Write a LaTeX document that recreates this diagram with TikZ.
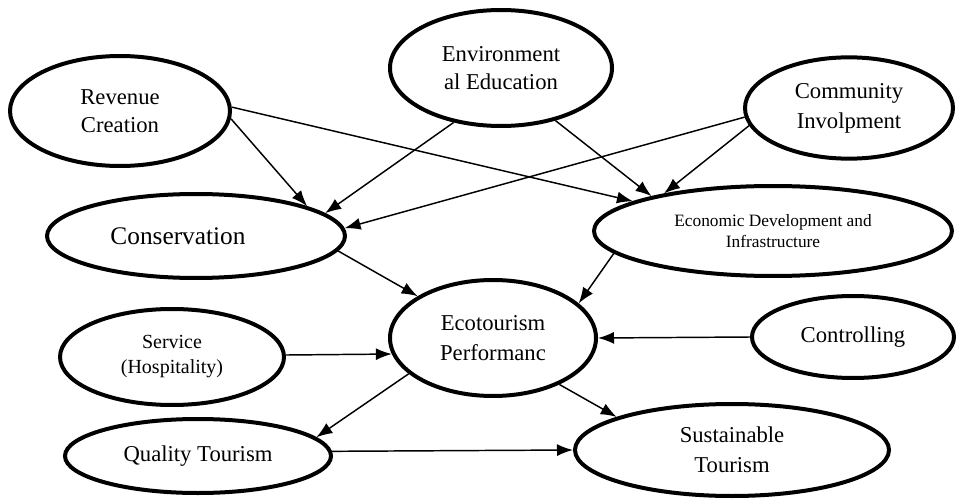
\documentclass[tikz,border=0pt]{standalone}
\usepackage{fontspec}
\setmainfont{Liberation Serif}
\usetikzlibrary{shapes.geometric,arrows.meta}
\tikzset{
  factor/.style={ellipse, draw, line width=3pt, inner sep=0pt, align=center,
    font=\fontsize{17pt}{21pt}\selectfont},
  link/.style={line width=1.1pt, -{Latex[length=12pt,width=9pt]}}
}
\begin{document}
\begin{tikzpicture}[x=0.75pt, y=-0.75pt]
  \useasboundingbox (0,0) rectangle (957,499);

  % top row
  \node[factor, minimum width=165pt, minimum height=82.5pt] (rev) at (120,111) {Revenue\\Creation};
  \node[factor, minimum width=166.5pt, minimum height=87pt] (env) at (501,68) {Environment\\al Education};
  \node[factor, minimum width=156pt, minimum height=76pt, font=\fontsize{17pt}{22.5pt}\selectfont] (comm) at (849,108) {Community\\Involpment};

  % second row
  \node[factor, minimum width=223.5pt, minimum height=63pt, font=\fontsize{19pt}{23pt}\selectfont] (cons) at (196,236) {Conservation\hspace*{27pt}};
  \node[factor, minimum width=268.5pt, minimum height=67.5pt, font=\fontsize{13pt}{16.3pt}\selectfont] (econ) at (773,231) {Economic Development and\\Infrastructure};

  % middle row
  \node[factor, minimum width=168pt, minimum height=72pt, font=\fontsize{15pt}{18.8pt}\selectfont] (serv) at (172,357) {Service\\(Hospitality)};
  \node[factor, minimum width=154.5pt, minimum height=87pt, font=\fontsize{17pt}{22.5pt}\selectfont] (eco) at (493,338) {Ecotourism\\Performanc};
  \node[factor, minimum width=151.5pt, minimum height=61.5pt] (ctrl) at (853,337) {Controlling};

  % bottom row
  \node[factor, minimum width=199.5pt, minimum height=55.5pt] (qual) at (198,456) {Quality Tourism};
  \node[factor, minimum width=235.5pt, minimum height=69pt, font=\fontsize{17pt}{22.5pt}\selectfont] (sust) at (732,450) {Sustainable\\Tourism};

  % links
  \draw[link] (rev.-4) -- (cons.15);
  \draw[link] (rev.2) -- (econ.168);
  \draw[link] (env.229) -- (cons.10);
  \draw[link] (env.-44) -- (econ.164);
  \draw[link] (comm.185) -- (cons.3);
  \draw[link] (comm.190) -- (econ.161);
  \draw[link] (cons.-6) -- (eco.151);
  \draw[link] (econ.188) -- (eco.22);
  \draw[link] (serv.1) -- (eco.189);
  \draw[link] (ctrl.west) -- (eco.east);
  \draw[link] (eco.203) -- (qual.9);
  \draw[link] (eco.-35) -- (sust.164);
  \draw[link] (qual.2) -- (sust.west);
\end{tikzpicture}
\end{document}
